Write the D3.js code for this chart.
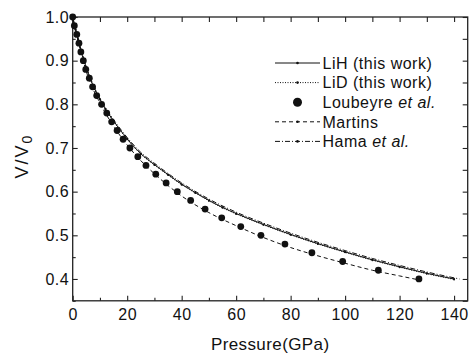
<!DOCTYPE html>
<head>
    <meta charset="utf-8">
    <script src="https://d3js.org/d3.v7.min.js"></script>
    <style>
        body {
            margin: 0;
            background: white;
            font-family: "Liberation Sans", Arial, sans-serif;
        }

        .axis text {
            font-size: 16px;
            letter-spacing: 0.5px;
            fill: #111;
        }

        .axis line {
            stroke: #222;
            stroke-width: 1.1px;
        }

        .frame {
            fill: none;
            stroke: #222;
            stroke-width: 1.3px;
        }

        .curve {
            fill: none;
            stroke: #111;
            stroke-width: 1px;
        }

        .legend text {
            font-size: 16px;
            letter-spacing: 0.5px;
            fill: #111;
        }

        .axis-title {
            font-size: 17px;
            letter-spacing: 0.4px;
            fill: #111;
        }
    </style>
</head>

<body>
<script>
    // LiH (this work)
    var lihP = [0, 1, 2, 3, 4, 5, 6, 8, 10, 12, 15, 20, 25, 30, 35, 40, 45, 50, 55, 60, 70, 80, 90, 100, 110, 120, 130, 140];
    var lihV = [1.0, 0.972, 0.949, 0.923, 0.903, 0.884, 0.866, 0.836, 0.812, 0.790, 0.762, 0.721, 0.687, 0.662, 0.639, 0.617, 0.598, 0.580, 0.564, 0.550, 0.525, 0.502, 0.481, 0.462, 0.444, 0.428, 0.413, 0.400];

    // LiD (this work)
    var lidP = [0, 1, 2, 3, 4, 5, 6, 8, 10, 12, 15, 20, 25, 30, 35, 40, 45, 50, 55, 60, 70, 80, 90, 100, 110, 120, 130, 140];
    var lidV = [1.0, 0.971, 0.948, 0.922, 0.902, 0.883, 0.865, 0.835, 0.811, 0.789, 0.761, 0.720, 0.686, 0.661, 0.638, 0.616, 0.597, 0.579, 0.563, 0.549, 0.524, 0.501, 0.480, 0.461, 0.443, 0.427, 0.412, 0.399];

    // Loubeyre et al. (points)
    var loubP = [0, 0.6, 1.5, 2.3, 3.0, 3.9, 4.8, 6.1, 7.3, 8.8, 10.6, 12.5, 14.3, 16.3, 18.5, 21.0, 23.9, 26.9, 30.5, 34.3, 38.4, 43.3, 48.6, 54.7, 61.7, 69.1, 77.9, 87.8, 99.1, 112.2, 127.1];
    var loubV = [1.00, 0.98, 0.96, 0.94, 0.92, 0.90, 0.88, 0.86, 0.84, 0.82, 0.80, 0.78, 0.76, 0.74, 0.72, 0.70, 0.68, 0.66, 0.64, 0.62, 0.60, 0.58, 0.56, 0.54, 0.52, 0.50, 0.48, 0.46, 0.44, 0.42, 0.40];

    // Martins
    var martP = [0, 2, 5, 10, 15, 20, 25, 30, 40, 50, 60, 70, 80, 90, 100, 110, 120, 127];
    var martV = [1.0, 0.945, 0.875, 0.803, 0.750, 0.707, 0.671, 0.641, 0.590, 0.552, 0.522, 0.495, 0.472, 0.453, 0.436, 0.420, 0.407, 0.398];

    // Hama et al.
    var hamaP = [0, 2, 5, 10, 15, 20, 25, 30, 40, 50, 60, 70, 80, 90, 100, 110, 120, 130, 142];
    var hamaV = [1.0, 0.950, 0.886, 0.814, 0.765, 0.724, 0.690, 0.665, 0.620, 0.583, 0.553, 0.528, 0.505, 0.484, 0.465, 0.447, 0.431, 0.416, 0.400];

    var xMajor = [0, 20, 40, 60, 80, 100, 120, 140];
    var xMinor = [10, 30, 50, 70, 90, 110, 130];
    var yMajor = [0.4, 0.5, 0.6, 0.7, 0.8, 0.9, 1.0];
    var yMinor = [0.35, 0.45, 0.55, 0.65, 0.75, 0.85, 0.95];

    var legendItems = [
        {name: "LiH (this work)", italic: "", type: "lih"},
        {name: "LiD (this work)", italic: "", type: "lid"},
        {name: "Loubeyre ", italic: "et al.", type: "dot"},
        {name: "Martins", italic: "", type: "mart"},
        {name: "Hama ", italic: "et al.", type: "hama"}
    ];

    var W = 471, H = 354;
    var plotLeft = 72.7, plotRight = 467.7, plotTop = 17, plotBottom = 300.8;

    var svg = d3.select("body").append("svg")
        .attr("width", W)
        .attr("height", H);

    var x = d3.scaleLinear().domain([0, 145]).range([plotLeft, plotRight]);
    var y = d3.scaleLinear().domain([0.35, 1.0]).range([plotBottom, plotTop]);

    function zip(ps, vs) {
        return ps.map(function(p, i) { return [p, vs[i]]; });
    }

    var line = d3.line()
        .x(function(d) { return x(d[0]); })
        .y(function(d) { return y(d[1]); })
        .curve(d3.curveMonotoneX);

    // axes, all ticks pointing inward
    svg.append("g").attr("class", "axis")
        .attr("transform", "translate(0," + plotBottom + ")")
        .call(d3.axisBottom(x).tickValues(xMajor).tickSizeInner(-5).tickSizeOuter(0).tickPadding(7.5))
        .select(".domain").remove();
    svg.append("g").attr("class", "axis")
        .attr("transform", "translate(0," + plotBottom + ")")
        .call(d3.axisBottom(x).tickValues(xMinor).tickSizeInner(-3).tickSizeOuter(0).tickFormat(""))
        .select(".domain").remove();
    svg.append("g").attr("class", "axis")
        .attr("transform", "translate(0," + plotTop + ")")
        .call(d3.axisTop(x).tickValues(xMajor.concat(xMinor)).tickSizeInner(-5).tickSizeOuter(0).tickFormat(""))
        .select(".domain").remove();

    svg.append("g").attr("class", "axis")
        .attr("transform", "translate(" + plotLeft + ",0)")
        .call(d3.axisLeft(y).tickValues(yMajor).tickSizeInner(-5).tickSizeOuter(0).tickPadding(3.5).tickFormat(d3.format(".1f")))
        .select(".domain").remove();
    svg.append("g").attr("class", "axis")
        .attr("transform", "translate(" + plotLeft + ",0)")
        .call(d3.axisLeft(y).tickValues(yMinor).tickSizeInner(-3).tickSizeOuter(0).tickFormat(""))
        .select(".domain").remove();
    svg.append("g").attr("class", "axis")
        .attr("transform", "translate(" + plotRight + ",0)")
        .call(d3.axisRight(y).tickValues(yMajor.concat(yMinor)).tickSizeInner(-5).tickSizeOuter(0).tickFormat(""))
        .select(".domain").remove();

    svg.append("rect")
        .attr("class", "frame")
        .attr("x", plotLeft)
        .attr("y", plotTop)
        .attr("width", plotRight - plotLeft)
        .attr("height", plotBottom - plotTop);

    // curves
    svg.append("path").attr("class", "curve")
        .attr("d", line(zip(martP, martV)))
        .attr("stroke-dasharray", "4,3");

    svg.append("path").attr("class", "curve")
        .attr("d", line(zip(hamaP, hamaV)))
        .attr("stroke-dasharray", "5,2,1,2");

    svg.append("path").attr("class", "curve")
        .attr("d", line(zip(lidP, lidV)))
        .attr("stroke-dasharray", "1,1.5");

    svg.append("path").attr("class", "curve")
        .attr("d", line(zip(lihP, lihV)));

    svg.append("g").selectAll("circle")
        .data(zip(lihP, lihV).concat(zip(lidP, lidV)))
        .enter().append("circle")
        .attr("cx", function(d) { return x(d[0]); })
        .attr("cy", function(d) { return y(d[1]); })
        .attr("r", 1)
        .attr("fill", "#111");

    svg.append("g").selectAll("circle")
        .data(zip(loubP, loubV))
        .enter().append("circle")
        .attr("cx", function(d) { return x(d[0]); })
        .attr("cy", function(d) { return y(d[1]); })
        .attr("r", 3.4)
        .attr("fill", "#111");

    // legend
    var legend = svg.append("g").attr("class", "legend")
        .attr("transform", "translate(275,63)");

    var rows = legend.selectAll("g")
        .data(legendItems)
        .enter().append("g")
        .attr("transform", function(d, i) { return "translate(0," + (i * 19.6) + ")"; });

    var dashFor = {lih: null, lid: "1,1.5", mart: "4,3", hama: "5,2,1,2"};

    rows.filter(function(d) { return d.type != "dot"; })
        .append("line")
        .attr("x1", 0).attr("x2", 45)
        .attr("stroke", "#111")
        .attr("stroke-width", 1)
        .attr("stroke-dasharray", function(d) { return dashFor[d.type]; });

    rows.filter(function(d) { return d.type != "dot"; })
        .append("circle")
        .attr("cx", 22.5).attr("r", 1.3)
        .attr("fill", "#111");

    rows.filter(function(d) { return d.type == "dot"; })
        .append("circle")
        .attr("cx", 22.5).attr("r", 4.5)
        .attr("fill", "#111");

    var labels = rows.append("text")
        .attr("x", 47.5)
        .attr("y", 5.7);
    labels.append("tspan").text(function(d) { return d.name; });
    labels.append("tspan")
        .style("font-style", "italic")
        .text(function(d) { return d.italic; });

    // axis titles
    svg.append("text")
        .attr("class", "axis-title")
        .attr("x", (plotLeft + plotRight) / 2)
        .attr("y", 349.5)
        .attr("text-anchor", "middle")
        .text("Pressure(GPa)");

    var yt = svg.append("text")
        .attr("class", "axis-title")
        .attr("transform", "translate(28,156) rotate(-90)")
        .attr("text-anchor", "middle")
        .style("font-size", "18px")
        .style("letter-spacing", "2px");
    yt.append("tspan").text("V/V");
    yt.append("tspan")
        .attr("dy", 4)
        .style("font-size", "14px")
        .text("0");
</script>
</body>
</html>
